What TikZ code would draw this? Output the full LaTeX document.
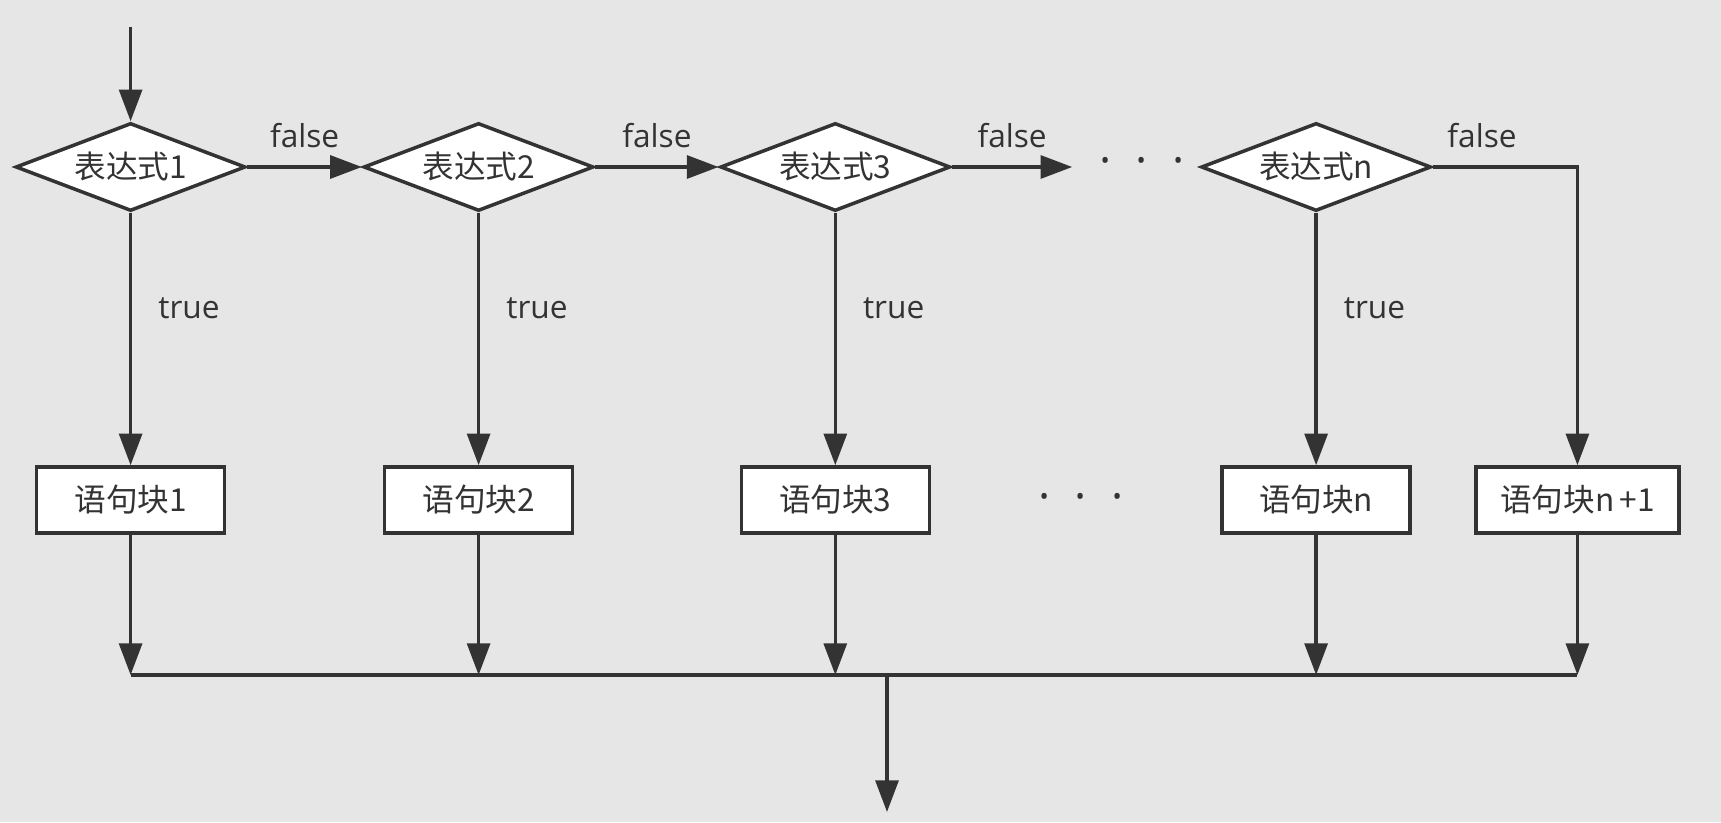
\documentclass[tikz,border=0pt]{standalone}
\usepackage{fontspec}
\setmainfont{Open Sans}
\newfontfamily\cjk{Noto Sans CJK SC}
\usetikzlibrary{shapes.geometric,arrows.meta}
\definecolor{bg}{HTML}{E6E6E6}
\definecolor{ink}{HTML}{333333}
\begin{document}
\begin{tikzpicture}
    [inner sep=0pt,color=ink,line width=1pt,
     >={Triangle[length=9pt,width=6.5pt]},
     font=\fontsize{9}{11}\selectfont,
     cond/.style={diamond,draw,fill=white,aspect=2.6,minimum width=23mm,
       minimum height=8.8mm,font=\cjk\fontsize{9}{11}\selectfont},
     block/.style={rectangle,draw,fill=white,minimum width=18.8mm,
       minimum height=6.6mm,font=\cjk\fontsize{9}{11}\selectfont}]
    \fill [bg] (0, 0) rectangle (17.21, 8.22);
    \useasboundingbox (0, 0) rectangle (17.21, 8.22);
    \coordinate (entry) at (1.306, 7.95);
    \node (cond1) at (1.306, 6.55) [cond] {表达式1};
    \node (cond2) at (4.786, 6.55) [cond] {表达式2};
    \node (cond3) at (8.353, 6.55) [cond] {表达式3};
    \node (dotsup) at (11.42, 6.55) [minimum width=13.6mm] {\fontsize{13}{13}\selectfont ·\hspace{2.4mm}·\hspace{2.4mm}·};
    \node (condn) at (13.161, 6.55) [cond] {表达式n};
    \node (block1) at (1.306, 3.22) [block] {语句块1};
    \node (block2) at (4.786, 3.22) [block] {语句块2};
    \node (block3) at (8.353, 3.22) [block] {语句块3};
    \node (dotslow) at (10.81, 3.19) {\fontsize{13}{13}\selectfont ·\hspace{2.4mm}·\hspace{2.4mm}·};
    \node (blockn) at (13.161, 3.22) [block] {语句块n};
    \node (blockm) at (15.774, 3.22) [block,minimum width=20.3mm] {语句块n\,+1};
    \coordinate (join) at (8.87, 1.47);
    \coordinate (exit) at (8.87, 0.10);
    \draw [->] (entry) to (cond1);
    \draw [->] (cond1) to node [above=1.7mm] {false} (cond2);
    \draw [->] (cond2) to node [above=1.7mm] {false} (cond3);
    \draw [->] (cond3) to node [above=1.7mm] {false} (dotsup);
    \draw [->] (condn) -| node [pos=0.17,above=1.7mm] {false} (blockm);
    \draw [->] (cond1) to node [pos=0.38,right=2.6mm] {true} (block1);
    \draw [->] (cond2) to node [pos=0.38,right=2.6mm] {true} (block2);
    \draw [->] (cond3) to node [pos=0.38,right=2.6mm] {true} (block3);
    \draw [->] (condn) to node [pos=0.38,right=2.6mm] {true} (blockn);
    \foreach \b in {block1,block2,block3,blockn,blockm}
      \draw [->] (\b) to (\b |- join);
    \draw (block1 |- join) to (blockm |- join);
    \draw [->] (join) to (exit);
  \end{tikzpicture}
\end{document}
